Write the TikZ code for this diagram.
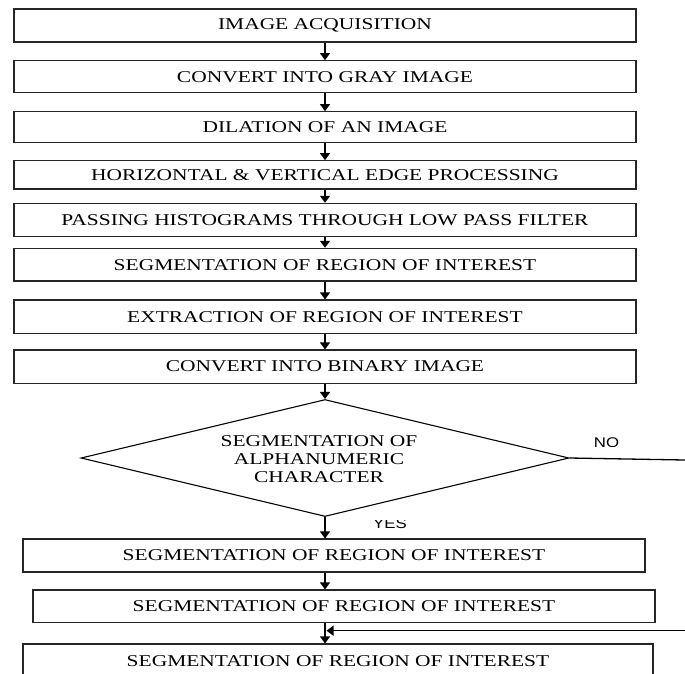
\documentclass[tikz,border=0pt]{standalone}
\usepackage{fontspec}
\setmainfont{Liberation Serif}[FakeStretch=1.3]
\newfontfamily\lblfont{Liberation Sans}[FakeStretch=1.2]
\usetikzlibrary{shapes.geometric,arrows.meta}
\begin{document}
\begin{tikzpicture}[x=1pt,y=-1pt,
  box/.style={draw=black!85,line width=1.1pt,rectangle,inner sep=0pt,
    font=\fontsize{16.5}{18}\selectfont},
  decision/.style={draw=black,line width=1.1pt,diamond,aspect=4.17,inner sep=0pt,
    minimum width=488pt,minimum height=117pt},
  dtext/.style={align=center,inner sep=0pt,font=\fontsize{16.5}{18}\selectfont},
  lbl/.style={inner sep=0pt,font=\lblfont\fontsize{14}{16}\selectfont},
  arr/.style={line width=1.3pt,-{Triangle[width=10pt,length=7pt]}},
  conn/.style={line width=1.3pt}]
\useasboundingbox (0,0) rectangle (685,673);
\fill[white] (0,0) rectangle (685,673);
% main column
\node[box,minimum width=622pt,minimum height=33pt]   (b1) at (325,25.5)   {IMAGE ACQUISITION};
\node[box,minimum width=622pt,minimum height=32pt]   (b2) at (325,76.7)   {CONVERT INTO GRAY IMAGE};
\node[box,minimum width=622pt,minimum height=30.6pt] (b3) at (325,127)    {DILATION OF AN IMAGE};
\node[box,minimum width=622pt,minimum height=28.3pt] (b4) at (325,174.85) {HORIZONTAL \& VERTICAL EDGE PROCESSING};
\node[box,minimum width=622pt,minimum height=33.4pt] (b5) at (325,220)    {PASSING HISTOGRAMS THROUGH LOW PASS FILTER};
\node[box,minimum width=622pt,minimum height=32.7pt] (b6) at (325,264.65) {SEGMENTATION OF REGION OF INTEREST};
\node[box,minimum width=622pt,minimum height=33.3pt] (b7) at (325,316.65) {EXTRACTION OF REGION OF INTEREST};
\node[box,minimum width=622pt,minimum height=33.3pt] (b8) at (325,366.65) {CONVERT INTO BINARY IMAGE};
% decision
\node[decision] (d) at (325,458) {};
\node[dtext] (dt) at (319,459) {SEGMENTATION OF\\ALPHANUMERIC\\CHARACTER};
% lower boxes
\node[box,minimum width=622pt,minimum height=33pt]   (b9)  at (334,555.5)  {SEGMENTATION OF REGION OF INTEREST};
\node[box,minimum width=622pt,minimum height=32.7pt] (b10) at (344,606.35) {SEGMENTATION OF REGION OF INTEREST};
\node[box,minimum width=630pt,minimum height=34pt]   (b11) at (338,661)    {SEGMENTATION OF REGION OF INTEREST};
% labels (partly hidden as in the source)
\begin{scope}
  \clip (560,420) rectangle (660,446.5);
  \node[lbl,anchor=base] (no) at (606.5,447.5) {NO};
\end{scope}
\begin{scope}
  \clip (350,520) rectangle (430,545);
  \node[lbl,anchor=base] (yes) at (390,528.5) {YES};
\end{scope}
% connectors
\draw[arr] (b1) -- (b2);
\draw[arr] (b2) -- (b3);
\draw[arr] (b3) -- (b4);
\draw[arr] (b4) -- (b5);
\draw[arr] (b5) -- (b6);
\draw[arr] (b6) -- (b7);
\draw[arr] (b7) -- (b8);
\draw[arr] (b8) -- (d);
\draw[arr] (d.south) -- (d.south |- b9.north);
\draw[arr] (d.south |- b9.south) -- (d.south |- b10.north);
\draw[arr] (d.south |- b10.south) -- (d.south |- b11.north);
\coordinate (noend) at (685,460);
\draw[conn] (d.east) -- (noend);
\coordinate (fb) at (685,630.7);
\coordinate (fbj) at (326.5,630.7);
\draw[arr] (fb) -- (fbj);
\end{tikzpicture}
\end{document}
